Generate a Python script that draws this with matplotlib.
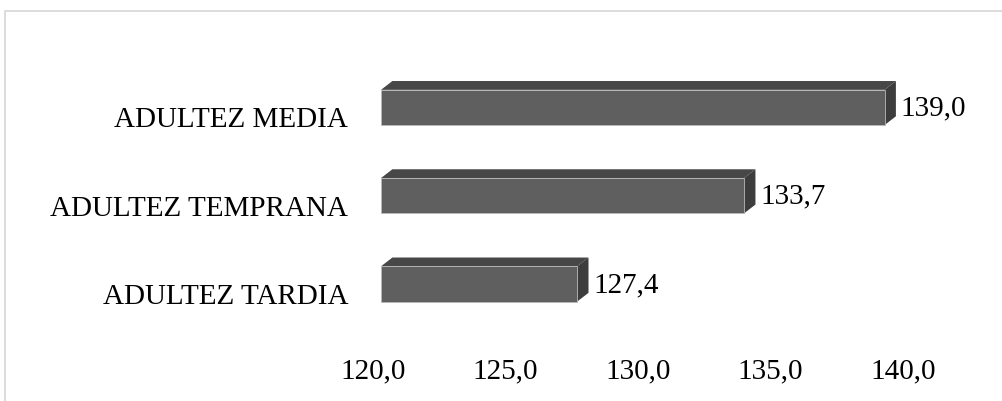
import matplotlib
matplotlib.use("Agg")
import matplotlib.pyplot as plt
from matplotlib.patches import Polygon
from matplotlib.lines import Line2D
from matplotlib.transforms import ScaledTranslation

# Mean score by adulthood stage
categories = ["ADULTEZ TARDIA", "ADULTEZ TEMPRANA", "ADULTEZ MEDIA"]
values = [127.4, 133.7, 139.0]
value_labels = ["127,4", "133,7", "139,0"]
x_ticks = [120.0, 125.0, 130.0, 135.0, 140.0]
x_tick_labels = ["120,0", "125,0", "130,0", "135,0", "140,0"]

BASE = 120.0
BAR_H = 0.40
DEPTH_X = 0.43   # extrusion, x data units
DEPTH_Y = 0.10   # extrusion, category units

FRONT = "#5f5f5f"
TOP = "#474747"
SIDE = "#3d3d3d"
EDGE = "#b8b8b8"
FRAME = "#d9d9d9"
FONT = "Liberation Serif"
FS = 21

W, H = 1003, 402
fig = plt.figure(figsize=(W / 100, H / 100), dpi=100)
fig.patch.set_facecolor("white")

# chart frame: left and top edges only fall inside the canvas
fig.add_artist(Line2D([4.5 / W, 4.5 / W, 1.0], [0.0, 1 - 11.5 / H, 1 - 11.5 / H],
                      transform=fig.transFigure, color=FRAME, lw=1.3))

ax = fig.add_axes([381 / W, 0.1813, (911 - 381) / W, 0.6586])
ax.set_xlim(BASE, 140.0)
ax.set_ylim(-0.5, 2.5)
for side in ax.spines.values():
    side.set_visible(False)

ys = list(range(len(categories)))
ax.barh(ys, [v - BASE for v in values], left=BASE, height=BAR_H,
        color=FRONT, edgecolor=EDGE, lw=0.6, zorder=3)

for y, v, lab in zip(ys, values, value_labels):
    y0, y1 = y - BAR_H / 2, y + BAR_H / 2
    top = Polygon([(BASE, y1), (v, y1), (v + DEPTH_X, y1 + DEPTH_Y),
                   (BASE + DEPTH_X, y1 + DEPTH_Y)],
                  closed=True, facecolor=TOP, edgecolor="none", zorder=2)
    side = Polygon([(v, y0), (v, y1), (v + DEPTH_X, y1 + DEPTH_Y),
                    (v + DEPTH_X, y0 + DEPTH_Y)],
                   closed=True, facecolor=SIDE, edgecolor="none", zorder=2)
    ax.add_patch(top)
    ax.add_patch(side)
    ax.annotate(lab, (v + DEPTH_X, y), xytext=(5, 0), textcoords="offset pixels",
                ha="left", va="center", fontsize=FS, family=FONT, color="black")

ax.set_yticks(ys, categories)
ax.set_xticks(x_ticks, x_tick_labels)
ax.tick_params(axis="both", length=0, labelsize=FS, colors="black")
ax.tick_params(axis="y", pad=23.5)
ax.tick_params(axis="x", pad=21)
for lbl in ax.get_yticklabels():
    lbl.set_family(FONT)
    lbl.set_transform(lbl.get_transform() + ScaledTranslation(0, -9 / 100, fig.dpi_scale_trans))
for lbl in ax.get_xticklabels():
    lbl.set_family(FONT)
    lbl.set_transform(lbl.get_transform() + ScaledTranslation(-8 / 100, 0, fig.dpi_scale_trans))

fig.savefig("out.png", dpi=100)
